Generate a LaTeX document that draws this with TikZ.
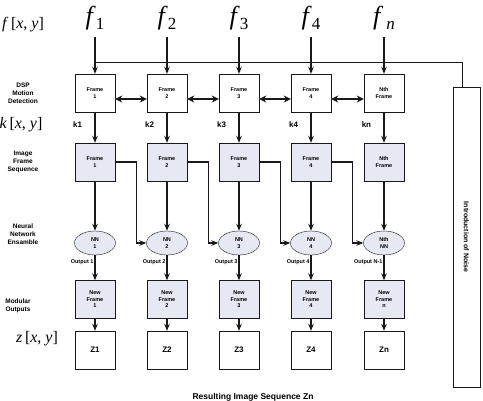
\documentclass[tikz,border=0pt]{standalone}
\usepackage{fontspec}
\setmainfont{Liberation Serif}
\setsansfont{Liberation Sans}
\usetikzlibrary{shapes.geometric, arrows.meta, positioning, calc}
\definecolor{frameFill}{RGB}{230,233,243}
\definecolor{lineInk}{RGB}{25,25,25}

\begin{document}
\begin{tikzpicture}[x=1pt, y=-1pt,
    side/.style={font=\fontsize{6.5}{8}\selectfont\sffamily\bfseries, align=center},
    mathlbl/.style={font=\fontsize{16}{18}\selectfont},
    flbl/.style={font=\fontsize{26}{28}\selectfont},
    dspbox/.style={draw=lineInk, fill=white, minimum width=40pt, minimum height=38pt,
      inner sep=0pt, align=center, font=\fontsize{5.5}{6.5}\selectfont\sffamily\bfseries},
    framebox/.style={dspbox, fill=frameFill},
    nnnode/.style={ellipse, draw=lineInk, fill=frameFill, minimum width=41pt, minimum height=24pt,
      inner sep=0pt, align=center, font=\fontsize{5.5}{6.5}\selectfont\sffamily\bfseries},
    zbox/.style={dspbox, font=\fontsize{8}{9}\selectfont\sffamily\bfseries},
    klbl/.style={font=\fontsize{8}{9}\selectfont\sffamily\bfseries},
    outlbl/.style={font=\fontsize{5.5}{6.5}\selectfont\sffamily\bfseries, inner sep=1pt},
    arrow/.style={-{Stealth[length=7pt, width=5.5pt]}, line width=1.1pt, draw=lineInk},
    twoway/.style={{Stealth[length=7pt, width=7pt]}-{Stealth[length=7pt, width=7pt]}, line width=2pt, draw=lineInk}
  ]
  \useasboundingbox (0,0) rectangle (483,400);

  % row labels on the left
  \node[mathlbl] (fxy) at (23,25) {\textit{f}\,[\textit{x}, \textit{y}]};
  \node[side] (dsp) at (23,93) {DSP\\Motion\\Detection};
  \node[mathlbl] (kxy) at (21,125) {\textit{k}\,[\textit{x}, \textit{y}]};
  \node[side] (seq) at (23,162) {Image\\Frame\\Sequence};
  \node[side] (ens) at (23,234) {Neural\\Network\\Ensamble};
  \node[side] (mod) at (18,306) {Modular\\Outputs};
  \node[mathlbl] (zxy) at (37,339) {\textit{z}\,[\textit{x}, \textit{y}]};

  % one column per frame
  \foreach \i/\x/\fs/\ft/\kt/\nt/\mt/\ot/\zt in {
      1/95/1/{Frame\\1}/k1/{NN\\1}/{New\\Frame\\1}/{Output 1}/Z1,
      2/167/2/{Frame\\2}/k2/{NN\\2}/{New\\Frame\\2}/{Output 2}/Z2,
      3/239/3/{Frame\\3}/k3/{NN\\3}/{New\\Frame\\3}/{Output 3}/Z3,
      4/311/4/{Frame\\4}/k4/{NN\\4}/{New\\Frame\\4}/{Output 4}/Z4,
      5/384/{\,\textit{n}}/{Nth\\Frame}/kn/{Nth\\NN}/{New\\Frame\\n}/{Output N-1}/Zn} {
    \node[flbl] (f\i) at (\x,18) {\textit{f}\raisebox{-5pt}{\fontsize{17}{17}\selectfont\fs}};
    \node[dspbox] (d\i) at (\x,93) {\ft};
    \node[framebox] (fr\i) at (\x,162) {\ft};
    \node[nnnode] (nn\i) at (\x,243) {\nt};
    \node[framebox] (nf\i) at (\x,299.5) {\mt};
    \node[zbox] (z\i) at (\x,350) {\zt};

    \draw[arrow] (f\i.south |- 0,37) -- (d\i.north);
    \draw[arrow] (d\i) -- node[klbl, left=9pt, pos=0.42] {\kt} (fr\i);
    \draw[arrow] (fr\i) -- (nn\i);
    \draw[arrow] (nn\i) -- node[outlbl, left, pos=0.27] {\ot} (nf\i);
    \draw[arrow] (nf\i) -- (z\i);
  }

  % links to the next column
  \foreach \i in {1,...,4} {
    \pgfmathtruncatemacro{\j}{\i+1}
    \draw[twoway] ([yshift=-6pt]d\i.east) -- ([yshift=-6pt]d\j.west);
    \draw[arrow] (fr\i.east) -- ++(21,0) |- (nn\j.west);
  }

  % noise feedback
  \node[draw=lineInk, line width=0.6pt, minimum width=27pt, minimum height=300pt] (noise) at (466.5,237) {};
  \node[side, font=\fontsize{7}{8}\selectfont\sffamily\bfseries, rotate=-90] (noiselbl) at (noise.center) {Introduction of Noise};
  \coordinate (tap) at (95,62);
  \draw[lineInk, line width=0.7pt] (tap) -| ([xshift=-4.5pt]noise.north);

  \node[font=\fontsize{8.5}{10}\selectfont\sffamily\bfseries] (result) at (253,397) {Resulting Image Sequence Zn};
\end{tikzpicture}
\end{document}
